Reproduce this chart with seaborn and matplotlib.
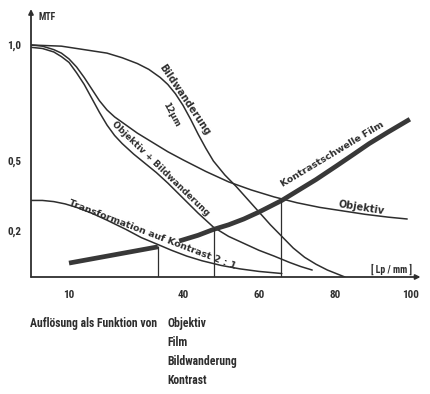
import numpy as np
import pandas as pd
import matplotlib
matplotlib.use("Agg")
import matplotlib.pyplot as plt
import seaborn as sns

# curves (x = Lp/mm, y = MTF)
objektiv_lp = [0, 3, 6, 8, 10, 12, 14, 16, 18, 20, 22, 25, 28, 32, 36, 40, 46, 52, 58, 64, 70, 76, 82, 88, 94, 99]
objektiv_mtf = [1.0, 0.995, 0.98, 0.965, 0.94, 0.905, 0.86, 0.81, 0.76, 0.72, 0.69, 0.655, 0.62, 0.58, 0.54, 0.505,
                0.455, 0.41, 0.375, 0.345, 0.32, 0.30, 0.285, 0.27, 0.258, 0.25]

objbild_lp = [0, 3, 6, 8, 10, 12, 14, 16, 18, 20, 22, 24, 27, 30, 33, 36, 40, 44, 48, 52, 56, 60, 64, 68, 71, 74]
objbild_mtf = [0.99, 0.985, 0.97, 0.95, 0.925, 0.88, 0.83, 0.77, 0.71, 0.655, 0.61, 0.575, 0.53, 0.49, 0.45, 0.405,
               0.34, 0.275, 0.215, 0.175, 0.145, 0.115, 0.09, 0.063, 0.045, 0.03]

bild_lp = [0, 8, 14, 20, 24, 28, 31, 34, 36, 38, 40, 42, 44, 46, 48, 51, 54, 57, 60, 63, 66, 69, 72, 75, 78, 82.6]
bild_mtf = [1.0, 0.995, 0.98, 0.965, 0.945, 0.92, 0.895, 0.86, 0.83, 0.79, 0.74, 0.68, 0.615, 0.555, 0.50, 0.44,
            0.39, 0.335, 0.28, 0.225, 0.175, 0.125, 0.085, 0.055, 0.03, 0.0]

trans_lp = [0, 3, 6, 9, 12, 16, 20, 25, 29, 33.4, 37, 41, 45, 50, 55, 60, 66]
trans_mtf = [0.33, 0.33, 0.325, 0.315, 0.30, 0.275, 0.245, 0.205, 0.17, 0.14, 0.115, 0.09, 0.07, 0.05, 0.035, 0.024, 0.015]

# Kontrastschwelle Film, drawn in two pieces (gap where the label crosses)
film1_lp = [10, 33.4]
film1_mtf = [0.06, 0.13]
film2_lp = [39, 44, 48, 52, 56, 60, 63, 66, 70, 75, 80.5, 85, 89, 94, 99.7]
film2_mtf = [0.155, 0.18, 0.205, 0.225, 0.25, 0.28, 0.305, 0.33, 0.37, 0.42, 0.48, 0.53, 0.575, 0.625, 0.68]

# resolution drop lines
drop_lp = [33.5, 48.2, 65.8]
drop_mtf = [0.135, 0.21, 0.33]

x_ticks = [10, 40, 60, 80, 100]
y_ticks = [0.2, 0.5, 1.0]
y_labels = ["0,2", "0,5", "1,0"]

caption = "Auflösung als Funktion von"
caption_items = ["Objektiv", "Film", "Bildwanderung", "Kontrast"]

thin = pd.concat([
    pd.DataFrame({"lp": objektiv_lp, "mtf": objektiv_mtf, "kurve": "Objektiv"}),
    pd.DataFrame({"lp": objbild_lp, "mtf": objbild_mtf, "kurve": "Objektiv + Bildwanderung"}),
    pd.DataFrame({"lp": bild_lp, "mtf": bild_mtf, "kurve": "Bildwanderung"}),
    pd.DataFrame({"lp": trans_lp, "mtf": trans_mtf, "kurve": "Transformation"}),
])
thick = pd.concat([
    pd.DataFrame({"lp": film1_lp, "mtf": film1_mtf, "seg": 1}),
    pd.DataFrame({"lp": film2_lp, "mtf": film2_mtf, "seg": 2}),
])

sns.set_style("white")
plt.rcParams["font.family"] = ["Roboto Condensed", "Liberation Sans", "DejaVu Sans"]
ink = "#2e2e2e"

fig = plt.figure(figsize=(4.3, 3.94), dpi=100)
ax = fig.add_axes([31 / 430, 1 - 277 / 394, 391 / 430, 269 / 394])

sns.lineplot(data=thin, x="lp", y="mtf", units="kurve", estimator=None,
             sort=False, color=ink, lw=1.1, ax=ax)
sns.lineplot(data=thick, x="lp", y="mtf", units="seg", estimator=None,
             sort=False, color="#383838", lw=3.4, solid_capstyle="butt", ax=ax)
ax.vlines(drop_lp, 0, drop_mtf, color=ink, lw=0.9)

ax.set_xlim(0, 391 / 3.8)
ax.set_ylim(0, 269 / 232)
for s in ax.spines.values():
    s.set_visible(False)
ax.annotate("", xy=(0, 1.155), xytext=(0, 0), annotation_clip=False,
            arrowprops=dict(arrowstyle="-|>", lw=1.3, color=ink, mutation_scale=7, shrinkA=0, shrinkB=0))
ax.annotate("", xy=(102.5, 0), xytext=(0, 0), annotation_clip=False,
            arrowprops=dict(arrowstyle="-|>", lw=1.3, color=ink, mutation_scale=7, shrinkA=0, shrinkB=0))

ax.set_xticks(x_ticks)
ax.set_xticklabels([str(t) for t in x_ticks], fontsize=8, fontweight="bold", color=ink)
ax.set_yticks(y_ticks)
ax.set_yticklabels(y_labels, fontsize=8, fontweight="bold", color=ink)
ax.tick_params(axis="x", length=3, width=1, color=ink, pad=6)
ax.tick_params(axis="y", length=5, width=1, color=ink, pad=2)
ax.set_xlabel("")
ax.set_ylabel("")

# curve labels are letter-spaced in the original; the wider face comes closer
lab = dict(color=ink, fontweight="bold", ha="center", va="center",
           rotation_mode="anchor", family=["DejaVu Sans"])
ax.text(2.1, 1.12, "MTF", fontsize=7, color=ink, fontweight="bold", ha="left", va="center")
ax.text(95, 0.034, "[ Lp / mm ]", fontsize=7, color=ink, fontweight="bold", ha="center", va="center")
ax.text(40.3, 0.765, "Bildwanderung", fontsize=7, rotation=-56, **lab)
ax.text(36.8, 0.70, "12µm", fontsize=6, rotation=-62, **lab)
ax.text(34.0, 0.466, "Objektiv + Bildwanderung", fontsize=6.4, rotation=-44, **lab)
ax.text(32, 0.183, "Transformation auf Kontrast 2 : 1", fontsize=6.8, rotation=-21, **lab)
ax.text(79.4, 0.53, "Kontrastschwelle Film", fontsize=6.8, rotation=31, **lab)
ax.text(86.8, 0.297, "Objektiv", fontsize=7, rotation=-9, **lab)

fig.text(30 / 430, 1 - 323 / 394, caption, fontsize=8.5, fontweight="bold",
         color=ink, ha="left", va="center")
for i, item in enumerate(caption_items):
    fig.text(167 / 430, 1 - (323 + 19.3 * i) / 394, item, fontsize=8.5,
             fontweight="bold", color=ink, ha="left", va="center")

fig.savefig("out.png", dpi=100, facecolor="white")
